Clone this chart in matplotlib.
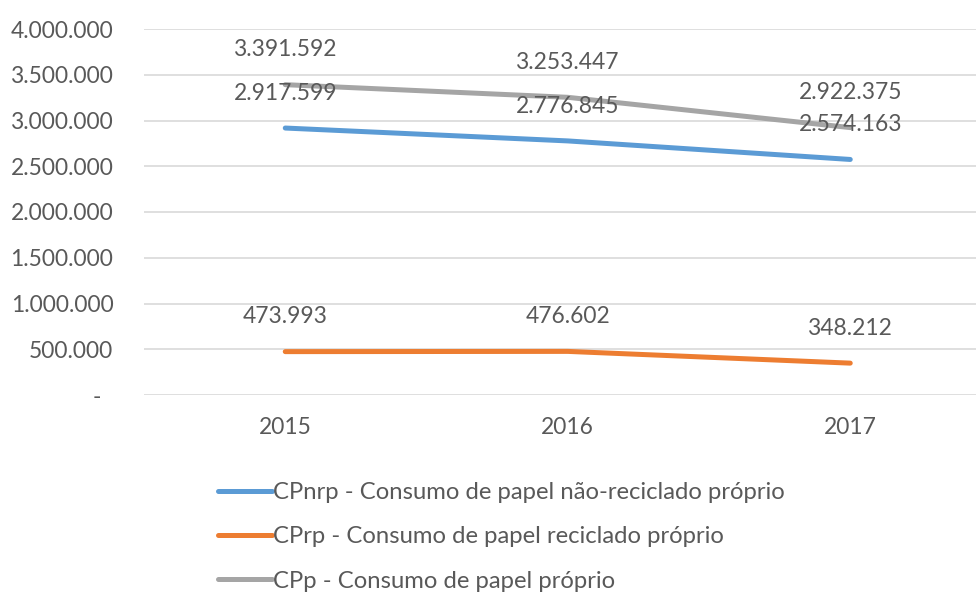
import matplotlib.pyplot as plt
from matplotlib.ticker import FuncFormatter

# Dados do gráfico
anos = ["2015", "2016", "2017"]
cpnrp = [2917599, 2776845, 2574163]
cprp = [473993, 476602, 348212]
cpp = [3391592, 3253447, 2922375]

nomes = [
    "CPnrp - Consumo de papel não-reciclado próprio",
    "CPrp - Consumo de papel reciclado próprio",
    "CPp - Consumo de papel próprio",
]
cores = ["#5B9BD5", "#ED7D31", "#A5A5A5"]

plt.rcParams['font.family'] = ['Lato', 'DejaVu Sans']
cor_texto = "#595959"
tam = 16.4


def formato_pt(v, pos=None):
    # separador de milhares com ponto, zero como "-"
    if v == 0:
        return "-  "
    return f"{int(round(v)):,}".replace(",", ".")


fig = plt.figure(figsize=(9.76, 5.94), dpi=100)
ax = fig.add_axes([144 / 976, 1 - 395 / 594, 1 - 144 / 976, 366 / 594])

x = list(range(len(anos)))
for serie, nome, cor in zip([cpnrp, cprp, cpp], nomes, cores):
    ax.plot(x, serie, color=cor, linewidth=3.6, solid_capstyle='round', label=nome, zorder=3)
    for xi, yi in zip(x, serie):
        ax.annotate(formato_pt(yi), (xi, yi), xytext=(0, 25), textcoords='offset points',
                    ha='center', va='center', fontsize=tam, color=cor_texto, zorder=4)

ax.set_xlim(-0.5, -0.5 + 832 / 282.5)
ax.set_ylim(0, 4000000)
ax.set_yticks(range(0, 4000001, 500000))
ax.yaxis.set_major_formatter(FuncFormatter(formato_pt))
ax.set_xticks(x)
ax.set_xticklabels(anos)
ax.grid(axis='y', color='#D9D9D9', linewidth=1.2)
ax.set_axisbelow(True)
for s in ax.spines.values():
    s.set_visible(False)
ax.tick_params(axis='both', length=0, labelsize=tam, labelcolor=cor_texto)
ax.tick_params(axis='y', pad=22)
ax.tick_params(axis='x', pad=16)

fig.legend(loc='upper left', bbox_to_anchor=(206 / 976, 1 - 470 / 594), frameon=False,
           fontsize=17.2, handlelength=2.25, handletextpad=0.05, labelspacing=0.98,
           borderpad=0, labelcolor=cor_texto)

fig.savefig("out.png", dpi=100)
